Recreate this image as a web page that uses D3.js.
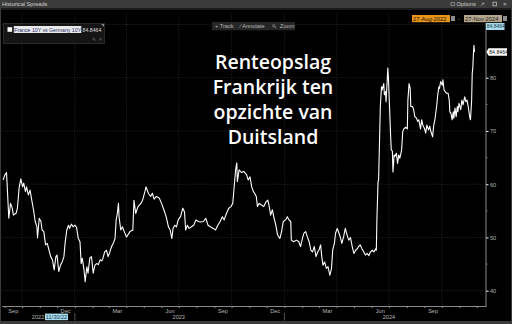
<!DOCTYPE html>
<html>
<head>
<meta charset="utf-8">
<script src="https://cdn.jsdelivr.net/npm/d3@7"></script>
<style>
  html, body { margin: 0; padding: 0; background: #000; overflow: hidden; }
  svg { display: block; }
</style>
</head>
<body>
<svg width="512" height="324" font-family="Liberation Sans, DejaVu Sans, sans-serif"></svg>
<script>
// spread France 10Y vs Germany 10Y (bp)
const dates = [
  "2022-08-29","2022-09-01","2022-09-04","2022-09-05","2022-09-08","2022-09-11","2022-09-14","2022-09-16","2022-09-21","2022-09-23",
  "2022-09-26","2022-09-29","2022-10-02","2022-10-04","2022-10-07","2022-10-09","2022-10-12","2022-10-15","2022-10-18","2022-10-21",
  "2022-10-24","2022-10-27","2022-10-28","2022-10-31","2022-11-03","2022-11-05","2022-11-08","2022-11-11","2022-11-14","2022-11-17",
  "2022-11-20","2022-11-23","2022-11-26","2022-11-29","2022-12-01","2022-12-04","2022-12-07","2022-12-10","2022-12-13","2022-12-15",
  "2022-12-18","2022-12-21","2022-12-23","2022-12-26","2022-12-29","2023-01-01","2023-01-04","2023-01-07","2023-01-10","2023-01-12",
  "2023-01-14","2023-01-17","2023-01-19","2023-01-22","2023-01-24","2023-01-27","2023-01-30","2023-02-02","2023-02-05","2023-02-08",
  "2023-02-11","2023-02-14","2023-02-17","2023-02-19","2023-02-22","2023-02-25","2023-02-28","2023-03-03","2023-03-06","2023-03-09",
  "2023-03-12","2023-03-14","2023-03-16","2023-03-18","2023-03-19","2023-03-22","2023-03-25","2023-03-28","2023-04-01","2023-04-07",
  "2023-04-12","2023-04-14","2023-04-17","2023-04-21","2023-04-26","2023-04-29","2023-05-03","2023-05-05","2023-05-09","2023-05-13",
  "2023-05-16","2023-05-19","2023-05-23","2023-05-28","2023-06-01","2023-06-05","2023-06-09","2023-06-13","2023-06-16","2023-06-19",
  "2023-06-21","2023-06-24","2023-06-27","2023-06-30","2023-07-04","2023-07-08","2023-07-11","2023-07-13","2023-07-16","2023-07-19",
  "2023-07-23","2023-07-27","2023-07-31","2023-08-04","2023-08-08","2023-08-13","2023-08-17","2023-08-21","2023-08-25","2023-08-30",
  "2023-09-03","2023-09-07","2023-09-11","2023-09-15","2023-09-18","2023-09-22","2023-09-26","2023-09-30","2023-10-03","2023-10-05",
  "2023-10-08","2023-10-10","2023-10-11","2023-10-14","2023-10-18","2023-10-22","2023-10-27","2023-10-30","2023-11-02","2023-11-05",
  "2023-11-08","2023-11-10","2023-11-13","2023-11-15","2023-11-18","2023-11-22","2023-11-26","2023-11-30","2023-12-03","2023-12-05",
  "2023-12-08","2023-12-11","2023-12-14","2023-12-17","2023-12-20","2023-12-24","2023-12-27","2023-12-30","2024-01-03","2024-01-06",
  "2024-01-09","2024-01-12","2024-01-13","2024-01-17","2024-01-22","2024-01-26","2024-01-29","2024-02-02","2024-02-04","2024-02-07",
  "2024-02-10","2024-02-13","2024-02-16","2024-02-19","2024-02-22","2024-02-25","2024-02-28","2024-03-01","2024-03-04","2024-03-06",
  "2024-03-08","2024-03-11","2024-03-14","2024-03-17","2024-03-20","2024-03-23","2024-03-25","2024-03-28","2024-03-30","2024-04-02",
  "2024-04-05","2024-04-08","2024-04-10","2024-04-13","2024-04-16","2024-04-19","2024-04-22","2024-04-25","2024-04-28","2024-05-01",
  "2024-05-04","2024-05-07","2024-05-09","2024-05-12","2024-05-15","2024-05-18","2024-05-21","2024-05-24","2024-05-27","2024-05-30",
  "2024-06-02","2024-06-05","2024-06-08","2024-06-09","2024-06-10","2024-06-12","2024-06-13","2024-06-16","2024-06-18","2024-06-19",
  "2024-06-22","2024-06-23","2024-06-25","2024-06-26","2024-06-28","2024-06-29","2024-06-30","2024-07-02","2024-07-04","2024-07-05",
  "2024-07-07","2024-07-08","2024-07-10","2024-07-11","2024-07-14","2024-07-16","2024-07-18","2024-07-20","2024-07-23","2024-07-25",
  "2024-07-27","2024-07-30","2024-08-02","2024-08-03","2024-08-05","2024-08-07","2024-08-08","2024-08-11","2024-08-13","2024-08-15",
  "2024-08-18","2024-08-20","2024-08-22","2024-08-25","2024-08-27","2024-08-29","2024-09-01","2024-09-03","2024-09-05","2024-09-08",
  "2024-09-10","2024-09-12","2024-09-15","2024-09-17","2024-09-19","2024-09-22","2024-09-24","2024-09-26","2024-09-27","2024-09-29",
  "2024-10-02","2024-10-03","2024-10-05","2024-10-07","2024-10-09","2024-10-12","2024-10-14","2024-10-15","2024-10-17","2024-10-19",
  "2024-10-21","2024-10-22","2024-10-24","2024-10-26","2024-10-28","2024-10-29","2024-10-31","2024-11-03","2024-11-05","2024-11-07",
  "2024-11-10","2024-11-12","2024-11-14","2024-11-16","2024-11-19","2024-11-20","2024-11-22","2024-11-23","2024-11-24","2024-11-25",
  "2024-11-26","2024-11-27"
];
const values = [
  60.8,61.7,62.2,60.2,53.6,56.4,55.5,54.2,54.6,55.5,
  59.3,61.0,59.5,60.2,58.6,59.5,58.0,58.9,57.0,55.2,
  53.0,52.0,49.9,53.6,53.0,51.4,51.1,48.6,48.9,47.6,
  46.4,45.8,43.9,46.4,46.7,43.6,44.8,45.4,46.4,48.9,
  51.4,52.3,51.7,52.5,52.0,52.3,51.9,49.8,49.2,45.1,
  46.1,43.9,41.7,44.5,43.3,46.1,46.4,43.3,44.8,45.1,
  44.9,45.8,45.6,46.1,47.3,47.6,46.4,47.3,48.3,48.9,
  49.8,53.3,54.5,56.4,53.9,51.4,52.0,51.1,50.1,51.1,
  51.4,57.0,54.5,55.8,56.4,57.0,58.6,59.5,58.3,57.7,
  58.3,57.2,57.7,57.4,56.4,55.2,53.9,52.0,51.4,49.8,
  51.7,52.3,52.0,53.3,53.9,55.5,54.8,51.4,52.3,51.7,
  52.0,52.3,53.3,53.0,52.9,53.0,53.6,52.3,52.0,51.7,
  51.4,52.3,53.0,53.9,53.3,54.5,55.5,55.8,56.4,58.9,
  62.7,64.0,60.5,62.7,62.2,62.4,61.8,60.8,61.4,59.5,
  58.6,58.3,57.7,55.8,56.4,56.1,55.8,56.7,57.0,56.1,
  54.2,55.2,53.6,52.3,50.5,49.8,51.1,53.0,53.3,53.9,
  53.3,53.0,49.5,49.2,49.5,49.2,48.3,50.1,50.8,51.1,
  50.1,49.2,47.6,47.3,48.3,46.4,47.3,47.6,48.6,46.4,
  44.8,45.4,44.2,44.5,42.9,44.2,47.6,48.9,50.8,51.7,
  50.8,49.8,48.9,50.1,51.7,50.5,49.5,50.0,48.3,47.0,
  47.6,47.9,48.3,48.6,47.9,47.3,46.7,47.0,46.6,47.3,
  47.6,47.3,47.9,47.6,53.3,60.5,60.8,74.6,78.3,77.7,
  78.9,76.8,77.4,75.5,79.6,81.8,80.2,74.6,68.9,66.5,
  66.2,62.3,65.5,65.2,65.8,63.9,65.5,64.9,66.4,69.9,
  70.4,70.7,70.4,75.8,78.9,78.0,74.6,74.6,74.0,72.7,
  72.4,71.8,72.1,70.4,72.1,71.1,70.4,69.6,71.1,70.2,
  70.9,69.9,68.9,71.1,72.1,74.6,76.8,78.3,78.0,79.3,
  78.6,79.6,77.7,77.4,77.1,77.1,75.8,73.6,73.3,72.1,
  73.6,72.4,74.3,72.7,74.6,73.6,75.2,74.0,75.8,74.9,
  76.4,75.5,75.8,74.6,72.4,72.1,75.8,80.8,81.8,84.3,
  86.1,84.8464
];
const seriesName = "France 10Y vs Germany 10Y";
const lastValue = "84.8464";
const yTicks = [40, 50, 60, 70, 80];
const yMinor = [45, 55, 65, 75, 85];
const yGrid = [40, 50, 60, 70, 80, 90];
const yearLabels = ["2022", "2023", "2024"];
const yearDates = ["2022-10-29", "2023-07-01", "2024-07-01"];
const titleLines = ["Renteopslag", "Frankrijk ten", "opzichte van", "Duitsland"];

const parse = d3.timeParse("%Y-%m-%d");
const data = dates.map((d, i) => ({ date: parse(d), value: values[i] }));

const svg = d3.select("svg");
const W = 512, H = 324;
const plotL = 2, plotR = 486, plotT = 14, plotB = 306;

const x = d3.scaleTime()
  .domain([new Date(2022, 7, 27), new Date(2024, 11, 17)])
  .range([1.9, plotR]);
const y = d3.scaleLinear().domain([40, 90]).range([290.7, 24.5]);

// window chrome
svg.append("rect").attr("width", W).attr("height", H).attr("fill", "#000");
svg.append("rect").attr("width", W).attr("height", 8.5).attr("fill", "#3b3b3b");
svg.append("rect").attr("y", 8.5).attr("width", W).attr("height", 1.5).attr("fill", "#1c1c1c");
svg.append("rect").attr("y", 321).attr("width", W).attr("height", 3).attr("fill", "#3b3b3b");
svg.append("rect").attr("width", 1).attr("height", H).attr("fill", "#3b3b3b");
svg.append("rect").attr("x", 511).attr("width", 1).attr("height", H).attr("fill", "#3b3b3b");
svg.append("text").attr("x", 2).attr("y", 6.3).attr("font-size", 5.6)
  .attr("fill", "#cfcfcf").text("Historical Spreads");
svg.append("rect").attr("x", 451).attr("y", 2.3).attr("width", 3.4).attr("height", 3.4)
  .attr("fill", "none").attr("stroke", "#aaa").attr("stroke-width", 0.6);
svg.append("text").attr("x", 456.5).attr("y", 6.3).attr("font-size", 5.6)
  .attr("fill", "#cfcfcf").text("Options");
svg.append("text").attr("x", 480).attr("y", 6.3).attr("font-size", 5.6)
  .attr("fill", "#cfcfcf").text("\u2197");
svg.append("rect").attr("x", 493).attr("y", 2.2).attr("width", 3.6).attr("height", 3.6)
  .attr("fill", "none").attr("stroke", "#cfcfcf").attr("stroke-width", 0.7);
svg.append("text").attr("x", 503).attr("y", 6.3).attr("font-size", 6)
  .attr("fill", "#cfcfcf").text("\u00d7");

// grid
const grid = svg.append("g").attr("stroke", "#3c3c3c").attr("stroke-width", 0.6)
  .attr("stroke-dasharray", "1,1.5");
grid.selectAll(".vg")
  .data(d3.timeMonth.every(3).range(x.domain()[0], x.domain()[1]))
  .join("line")
  .attr("x1", (d) => x(d)).attr("x2", (d) => x(d))
  .attr("y1", plotT).attr("y2", plotB);
grid.selectAll(".hg")
  .data(yGrid)
  .join("line")
  .attr("x1", plotL).attr("x2", plotR)
  .attr("y1", (d) => y(d)).attr("y2", (d) => y(d));

// series
svg.append("defs").append("clipPath").attr("id", "plot")
  .append("rect").attr("x", plotL).attr("y", plotT)
  .attr("width", plotR - plotL).attr("height", plotB - plotT);
const line = d3.line().x((d) => x(d.date)).y((d) => y(d.value));
svg.append("path")
  .datum(data)
  .attr("clip-path", "url(#plot)")
  .attr("fill", "none")
  .attr("stroke", "#fff")
  .attr("stroke-width", 1.1)
  .attr("stroke-linejoin", "round")
  .attr("d", line);

// bottom axis
const xAxisG = svg.append("g").attr("transform", `translate(0,${plotB})`);
xAxisG.call(
  d3.axisBottom(x)
    .tickValues(d3.timeMonth.range(new Date(2022, 8, 1), new Date(2024, 11, 2)))
    .tickSize(2)
    .tickSizeOuter(0)
    .tickFormat("")
);
xAxisG.select(".domain").attr("stroke", "#8a8a8a").attr("stroke-width", 1);
xAxisG.selectAll(".tick line").attr("stroke", "#8a8a8a");

const monthLabels = d3.timeMonth
  .range(new Date(2022, 8, 1), new Date(2024, 10, 1))
  .filter((d) => d.getMonth() % 3 === 2)
  .map((d) => d3.timeDay.offset(d, 14));
const labG = svg.append("g").attr("transform", `translate(0,${plotB})`);
labG.call(d3.axisBottom(x).tickValues(monthLabels).tickSize(0).tickPadding(3)
  .tickFormat(d3.timeFormat("%b")));
labG.select(".domain").remove();
labG.selectAll("text").attr("fill", "#b4b4b4").attr("font-size", 5.6)
  .attr("font-family", "Liberation Sans, sans-serif");

// year row
svg.append("g").selectAll("line")
  .data([new Date(2023, 0, 1), new Date(2024, 0, 1)])
  .join("line")
  .attr("x1", (d) => x(d)).attr("x2", (d) => x(d))
  .attr("y1", 313).attr("y2", 320.5)
  .attr("stroke", "#777").attr("stroke-width", 0.7);
svg.append("g").selectAll("text")
  .data(yearLabels)
  .join("text")
  .attr("x", (d, i) => x(parse(yearDates[i])))
  .attr("y", 319)
  .attr("text-anchor", "middle")
  .attr("font-size", 5.6)
  .attr("fill", "#b4b4b4")
  .text((d) => d);
const cur = x(parse("2022-11-30"));
svg.append("rect").attr("x", cur - 11.5).attr("y", 313.6).attr("width", 23).attr("height", 6.6)
  .attr("fill", "#a6dceb");
svg.append("text").attr("x", cur).attr("y", 319).attr("text-anchor", "middle")
  .attr("font-size", 5.6).attr("fill", "#1b3a52").text("11/30/22");

// right axis
const yAxisG = svg.append("g").attr("transform", `translate(${plotR},0)`);
yAxisG.call(d3.axisRight(y).tickValues(yTicks).tickSize(2.5).tickPadding(1.5).tickSizeOuter(0));
yAxisG.select(".domain").remove();
yAxisG.selectAll(".tick line").attr("stroke", "#fff");
yAxisG.selectAll("text").attr("fill", "#b4b4b4").attr("font-size", 5.6)
  .attr("font-family", "Liberation Sans, sans-serif");
yAxisG.selectAll(".minor")
  .data(yMinor)
  .join("line")
  .attr("x1", 0).attr("x2", 1.5)
  .attr("y1", (d) => y(d)).attr("y2", (d) => y(d))
  .attr("stroke", "#777");
svg.append("line").attr("x1", plotR).attr("x2", plotR).attr("y1", 23).attr("y2", plotB + 0.5)
  .attr("stroke", "#8a8a8a").attr("stroke-width", 1);

// last value tag
const ly = y(values[values.length - 1]);
svg.append("path")
  .attr("d", `M${plotR + 0.5},${ly} L${plotR + 2.5},${ly - 3.8} H${plotR + 21} V${ly + 3.8} H${plotR + 2.5} Z`)
  .attr("fill", "#fff");
svg.append("text").attr("x", plotR + 3.2).attr("y", ly + 2).attr("font-size", 5.2)
  .attr("fill", "#111").text(lastValue);
svg.append("rect").attr("x", plotR).attr("y", 23).attr("width", 18.5).attr("height", 7)
  .attr("fill", "#a6dceb");
svg.append("text").attr("x", plotR + 0.8).attr("y", 28.4).attr("font-size", 5)
  .attr("fill", "#1b3a52").text(lastValue);

// date range boxes
svg.append("rect").attr("x", 412).attr("y", 15).attr("width", 38).attr("height", 7.2).attr("fill", "#e8951c");
svg.append("text").attr("x", 413).attr("y", 20.6).attr("font-size", 5.8).attr("fill", "#1a1000").text("27-Aug-2022");
svg.append("rect").attr("x", 451).attr("y", 16).attr("width", 4).attr("height", 5).attr("fill", "#8c8c8c");
svg.append("text").attr("x", 458).attr("y", 20.6).attr("font-size", 5.8).attr("fill", "#e8951c").text("-");
svg.append("rect").attr("x", 464).attr("y", 15).attr("width", 38).attr("height", 7.2).attr("fill", "#b3a48c");
svg.append("text").attr("x", 465).attr("y", 20.6).attr("font-size", 5.8).attr("fill", "#222").text("27-Nov-2024");
svg.append("rect").attr("x", 503).attr("y", 16).attr("width", 4).attr("height", 5).attr("fill", "#8c8c8c");

// legend box
svg.append("rect").attr("x", 3.5).attr("y", 23.5).attr("width", 101).attr("height", 20)
  .attr("fill", "#151515").attr("stroke", "#333").attr("stroke-width", 0.8);
svg.append("path").attr("d", "M101,24 L104,24 L104,27 Z").attr("fill", "#888");
svg.append("rect").attr("x", 7.5).attr("y", 27.2).attr("width", 4.6).attr("height", 4.6).attr("fill", "#fff");
svg.append("rect").attr("x", 13.8).attr("y", 26).attr("width", 67.5).attr("height", 7).attr("fill", "#e9e9e9");
svg.append("text").attr("x", 14.3).attr("y", 31.5).attr("font-size", 5.2).attr("fill", "#1d2c6b").text(seriesName);
svg.append("text").attr("x", 82.6).attr("y", 31.5).attr("font-size", 5.2).attr("fill", "#ddd").text(lastValue);
svg.append("text").attr("x", 92).attr("y", 41.3).attr("font-size", 4.8).attr("fill", "#777").text("\u270e");
svg.append("text").attr("x", 99).attr("y", 41.3).attr("font-size", 5).attr("fill", "#777").text("\u00d7");

// toolbar
svg.append("rect").attr("x", 212).attr("y", 22).attr("width", 83).attr("height", 8.3).attr("fill", "#262626");
const tb = svg.append("g").attr("font-size", 5.6).attr("fill", "#b8b8b8");
tb.append("text").attr("x", 215).attr("y", 28.3).text("+  Track");
tb.append("text").attr("x", 240).attr("y", 28.3).text("\u2215  Annotate");
svg.append("circle").attr("cx", 273.8).attr("cy", 25.8).attr("r", 1.3)
  .attr("fill", "none").attr("stroke", "#b8b8b8").attr("stroke-width", 0.5);
svg.append("line").attr("x1", 274.8).attr("y1", 26.8).attr("x2", 276).attr("y2", 28)
  .attr("stroke", "#b8b8b8").attr("stroke-width", 0.6);
tb.append("text").attr("x", 280).attr("y", 28.3).text("Zoom");

// title overlay
svg.append("g").selectAll("text")
  .data(titleLines)
  .join("text")
  .attr("x", 273)
  .attr("y", (d, i) => 68.5 + i * 25.2)
  .attr("text-anchor", "middle")
  .attr("font-family", "Open Sans, sans-serif")
  .attr("font-weight", 600)
  .attr("font-size", 19.5)
  .attr("fill", "#fff")
  .text((d) => d);
</script>
</body>
</html>
